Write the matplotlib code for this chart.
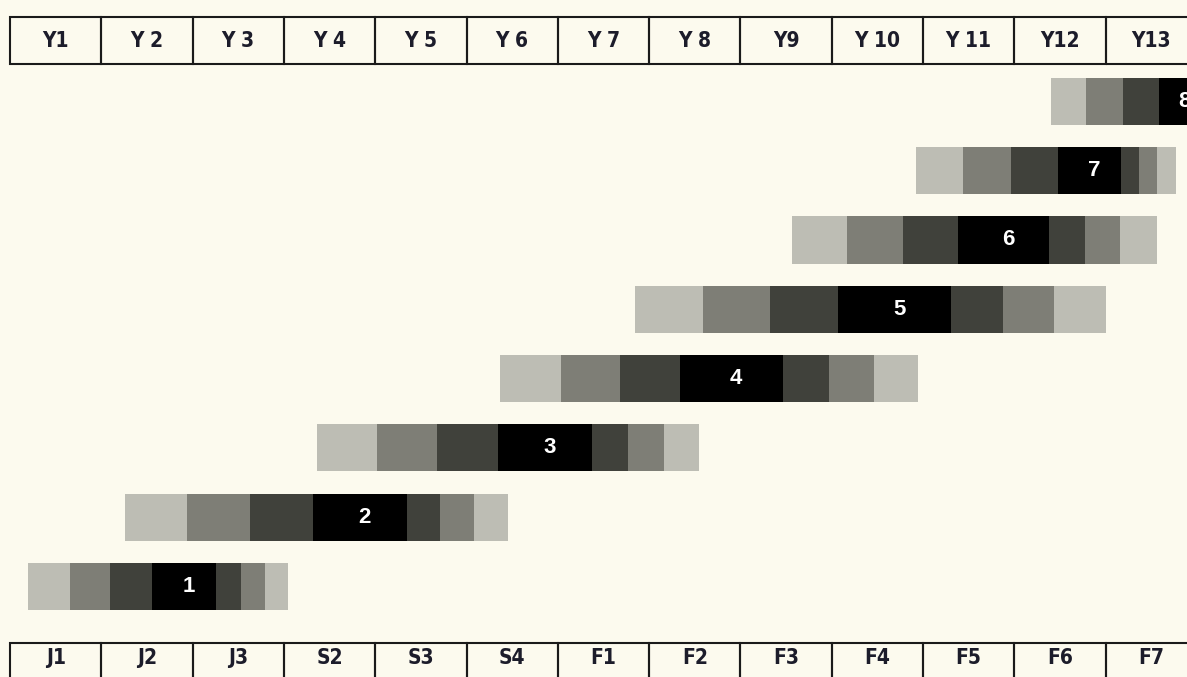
import matplotlib.pyplot as plt
from matplotlib.patches import Rectangle

top_labels = ["Y1", "Y 2", "Y 3", "Y 4", "Y 5", "Y 6", "Y 7", "Y 8", "Y9", "Y 10", "Y 11", "Y12", "Y13"]
bottom_labels = ["J1", "J2", "J3", "S2", "S3", "S4", "F1", "F2", "F3", "F4", "F5", "F6", "F7"]
bar_names = ["1", "2", "3", "4", "5", "6", "7", "8"]

# segment boundaries of each bar, in header-column units (light, mid, dark, black, dark, mid, light)
bar_edges = [
    [0.20, 0.66, 1.10, 1.55, 2.26, 2.53, 2.79, 3.04],
    [1.26, 1.94, 2.63, 3.32, 4.35, 4.71, 5.08, 5.46],
    [3.36, 4.02, 4.68, 5.35, 6.37, 6.77, 7.16, 7.55],
    [5.37, 6.04, 6.68, 7.34, 8.47, 8.97, 9.46, 9.94],
    [6.85, 7.59, 8.32, 9.07, 10.31, 10.88, 11.44, 12.00],
    [8.57, 9.17, 9.78, 10.38, 11.38, 11.77, 12.16, 12.56],
    [9.92, 10.44, 10.96, 11.48, 12.17, 12.37, 12.56, 12.77],
    [11.40, 11.79, 12.19, 12.58, 13.05, 13.27, 13.49, 13.71],
]

shades = ["#bdbdb4", "#7e7e76", "#40413b", "#000000", "#40413b", "#7e7e76", "#bdbdb4"]
bg = "#fcfaee"

fig = plt.figure(figsize=(11.87, 6.77), dpi=100, facecolor=bg)
ax = fig.add_axes([0, 0, 1, 1])
ax.set_facecolor(bg)

# one column = 91.3 px starting at x=10 px; one row = 69.3 px, row 1 centred at y=586.5 px
ax.set_xlim(-10 / 91.3, (1187 - 10) / 91.3)
ax.set_ylim(1 - (677 - 586.5) / 69.3, 1 + 586.5 / 69.3)
ax.axis("off")

bar_h = 0.68
for i, edges in enumerate(bar_edges):
    y = i + 1
    segs = [(edges[k], edges[k + 1] - edges[k]) for k in range(len(edges) - 1)]
    ax.broken_barh(segs, (y - bar_h / 2, bar_h), facecolors=shades, edgecolor="none")
    xc = (edges[3] + edges[4]) / 2 + 0.05
    ax.text(xc, y, bar_names[i], color="white", fontsize=16, fontweight="bold",
            family="Liberation Sans", ha="center", va="center")

# header rows
top_y0, top_y1 = 8.535, 9.215
bot_y0, bot_y1 = -0.50, 0.185
row_h = top_y1 - top_y0
for rows, y0, y1 in [(top_labels, top_y0, top_y1), (bottom_labels, bot_y0, bot_y1)]:
    ty = y1 - (row_h / 2 if y0 > 0 else 0.22)
    for j, lab in enumerate(rows):
        ax.add_patch(Rectangle((j, y0), 1, y1 - y0, facecolor="none", edgecolor="#1a1a1a", linewidth=1.5))
        ax.text(j + 0.5, ty, lab, color="#1c1c2a", fontsize=15, fontweight="bold",
                family="DejaVu Sans", fontstretch="condensed", ha="center", va="center")

fig.savefig("out.png", dpi=100, facecolor=bg)
